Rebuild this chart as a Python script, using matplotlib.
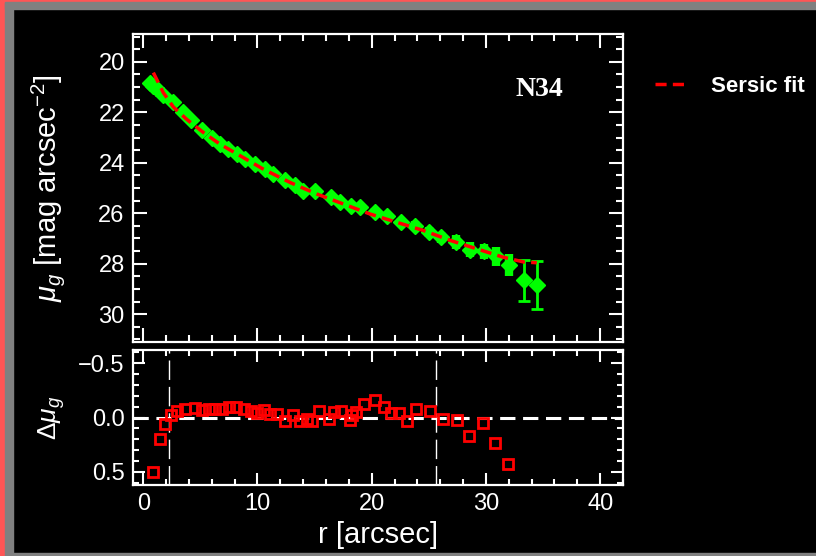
import matplotlib
matplotlib.use("Agg")
import matplotlib.pyplot as plt
from matplotlib.patches import Rectangle
from matplotlib.ticker import MultipleLocator

plt.rcParams["font.family"] = ["Liberation Sans", "DejaVu Sans"]
plt.rcParams["mathtext.fontset"] = "custom"
plt.rcParams["mathtext.rm"] = "Liberation Sans"
plt.rcParams["mathtext.it"] = "Liberation Sans:italic"

# surface brightness profile
r_prof = [0.55, 0.82, 1.1, 1.75, 2.6, 3.5, 4.2, 5.1, 6.0, 6.7, 7.45, 8.2, 8.9,
          9.8, 10.7, 11.4, 12.4, 13.3, 14.0, 15.0, 16.4, 17.2, 18.2, 19.0,
          20.3, 21.3, 22.6, 23.8, 25.0, 26.1, 27.4, 28.6, 29.8, 30.9, 32.0]
mu_prof = [20.85, 20.95, 21.05, 21.3, 21.6, 22.0, 22.3, 22.7, 23.0, 23.26,
           23.46, 23.66, 23.86, 24.05, 24.25, 24.45, 24.7, 24.9, 25.1, 25.1,
           25.37, 25.57, 25.7, 25.76, 25.96, 26.1, 26.35, 26.5, 26.75, 26.95,
           27.14, 27.44, 27.5, 27.7, 28.05]
mu_err = [0.12, 0.12, 0.12, 0.12, 0.12, 0.12, 0.12, 0.12, 0.12, 0.12, 0.12,
          0.12, 0.12, 0.12, 0.12, 0.12, 0.12, 0.12, 0.14, 0.14, 0.14, 0.14,
          0.15, 0.15, 0.15, 0.16, 0.17, 0.18, 0.2, 0.22, 0.26, 0.31, 0.3,
          0.37, 0.45]
r_outer = [33.3, 34.5]
mu_outer = [28.66, 28.85]
err_outer = [0.80, 0.95]

# Sersic fit curve
r_fit = [0.88, 1.75, 2.63, 3.8, 5.26, 6.7, 8.47, 10.5, 12.85, 15.2, 17.5,
         19.85, 22.2, 24.5, 26.9, 29.2, 31.5, 33.3, 34.45]
mu_fit = [20.43, 21.22, 21.79, 22.28, 22.8, 23.26, 23.72, 24.25, 24.78, 25.24,
          25.63, 26.03, 26.36, 26.68, 27.08, 27.41, 27.74, 27.93, 27.96]

# residuals
r_res = [0.85, 1.43, 1.93, 2.43, 2.95, 3.68, 4.55, 5.13, 5.72, 6.3, 6.88, 7.47,
         8.14, 8.78, 9.42, 10.0, 10.6, 11.1, 11.7, 12.4, 13.1, 13.7, 14.3,
         14.8, 15.4, 16.3, 16.7, 17.3, 18.1, 18.3, 18.6, 19.3, 20.3, 21.1,
         21.7, 22.4, 23.1, 23.9, 25.1, 26.2, 27.5, 28.5, 29.7, 30.8, 31.9]
d_res = [0.50, 0.20, 0.06, -0.02, -0.06, -0.08, -0.09, -0.07, -0.08, -0.08,
         -0.08, -0.10, -0.10, -0.08, -0.06, -0.04, -0.07, -0.03, -0.03, 0.03,
         -0.02, 0.03, 0.01, 0.03, -0.06, 0.01, -0.05, -0.06, 0.02, -0.02,
         -0.05, -0.12, -0.16, -0.10, -0.04, -0.04, 0.03, -0.08, -0.06, 0.01,
         0.02, 0.17, 0.05, 0.23, 0.43]

fit_range = [2.27, 25.6]

W, H = 816, 556
GREEN = "#00ff00"
RED = "#ff0000"

fig = plt.figure(figsize=(W / 100, H / 100), dpi=100, facecolor="black")

# window border strips (pixels, y measured from bottom)
for (x0, y0, w, h, c) in [(0, 0, 5, H, "#ff5555"), (5, 0, 8, H, "#808080"),
                          (0, H - 2, W, 2, "#ff5555"), (5, H - 9, W, 7, "#808080"),
                          (13, 0, W, 3, "#808080")]:
    fig.patches.append(Rectangle((x0 / W, y0 / H), w / W, h / H,
                                 transform=fig.transFigure, color=c, zorder=0))

ax1 = fig.add_axes([133 / W, 1 - 342 / H, 490 / W, 308 / H])
ax2 = fig.add_axes([133 / W, 1 - 485 / H, 490 / W, 135 / H])


def style(ax, major_len, minor_len):
    ax.set_facecolor("black")
    for s in ax.spines.values():
        s.set_color("white")
        s.set_linewidth(1.6)
    ax.tick_params(which="both", direction="in", top=True, right=True,
                   colors="white", width=1.5, labelsize=17, pad=6)
    ax.tick_params(which="major", length=major_len)
    ax.tick_params(which="minor", length=minor_len)


# top panel
ax1.errorbar(r_prof, mu_prof, yerr=mu_err, fmt="D", ms=8, color=GREEN,
             ecolor=GREEN, elinewidth=6, capsize=0, zorder=2)
ax1.errorbar(r_outer, mu_outer, yerr=err_outer, fmt="D", ms=8, color=GREEN,
             ecolor=GREEN, elinewidth=2, capsize=4, capthick=2, zorder=2)
fit_line, = ax1.plot(r_fit, mu_fit, color=RED, lw=2.5, dashes=(3.2, 1.8), zorder=3)

ax1.set_xlim(-0.9, 42)
ax1.set_ylim(31.1, 18.9)
ax1.xaxis.set_major_locator(MultipleLocator(10))
ax1.xaxis.set_minor_locator(MultipleLocator(2))
ax1.yaxis.set_major_locator(MultipleLocator(2))
ax1.yaxis.set_minor_locator(MultipleLocator(0.5))
ax1.tick_params(labelbottom=False)
ax1.set_ylabel(r"$\mu_g$ [mag arcsec$^{-2}$]", color="white", fontsize=21, va="center")
ax1.yaxis.set_label_coords(-0.173, 0.5)
ax1.text(0.83, 0.82, "N34", transform=ax1.transAxes, color="white",
         fontsize=20, fontweight="bold", family="Liberation Serif",
         ha="center", va="center")

fig.legend([fit_line], ["Sersic fit"], loc="center left",
           bbox_to_anchor=(655 / W, 1 - 86 / H), frameon=False,
           prop={"size": 16, "weight": "bold"}, labelcolor="white",
           handlelength=1.5, handletextpad=1.0, borderpad=0, borderaxespad=0)

# residual panel
ax2.axhline(0, color="white", lw=2.2, dashes=(5, 2.5), zorder=1)
for xv in fit_range:
    ax2.axvline(xv, color="white", lw=1, dashes=(14, 5), zorder=1)
ax2.plot(r_res, d_res, "s", ms=7.5, mfc="none", mec=RED, mew=2, zorder=3)

ax2.set_xlim(-0.9, 42)
ax2.set_ylim(0.62, -0.62)
ax2.xaxis.set_major_locator(MultipleLocator(10))
ax2.xaxis.set_minor_locator(MultipleLocator(2))
ax2.set_yticks([-0.5, 0.0, 0.5], ["\u22120.5", "0.0", "0.5"])
ax2.yaxis.set_minor_locator(MultipleLocator(0.1))
ax2.set_xlabel("r [arcsec]", color="white", fontsize=21, labelpad=4)
ax2.set_ylabel(r"$\Delta\mu_g$", color="white", fontsize=19, va="center")
ax2.yaxis.set_label_coords(-0.165, 0.5)

style(ax1, 10, 5)
style(ax2, 8.5, 4.5)

fig.savefig("out.png", dpi=100, facecolor="black")
